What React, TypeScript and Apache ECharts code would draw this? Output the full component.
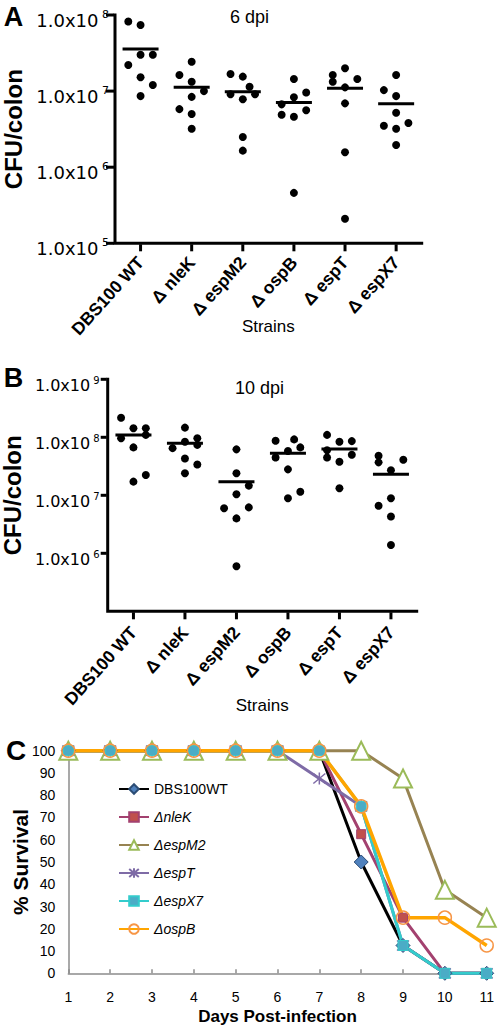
import React, { useEffect, useRef } from 'react';
import * as echarts from 'echarts';

// ---------- Data ----------
const strains = ['DBS100 WT', 'Δ nleK', 'Δ espM2', 'Δ ospB', 'Δ espT', 'Δ espX7'];

// Panel A (6 dpi) CFU/colon per mouse
const a_WT = [8.2e7, 7.4e7, 3.0e7, 3.0e7, 2.2e7, 1.52e7, 1.2e7, 8.6e6];
const a_nleK = [2.43e7, 1.63e7, 1.33e7, 1.0e7, 8.4e6, 5.8e6, 5.0e6, 3.2e6];
const a_espM2 = [1.68e7, 1.55e7, 1.14e7, 9.1e6, 7.8e6, 9.1e6, 2.5e6, 1.65e6];
const a_ospB = [1.44e7, 9.6e6, 8.3e6, 6.7e6, 5.6e6, 4.9e6, 4.6e6, 4.6e5];
const a_espT = [2.0e7, 1.63e7, 1.44e7, 1.33e7, 1.12e7, 6.9e6, 1.57e6, 2.1e5];
const a_espX7 = [1.63e7, 1.03e7, 8.6e6, 5.2e6, 3.8e6, 3.5e6, 3.2e6, 1.96e6];
// column (left -1 / centre 0 / right 1) of each dot in the scatter
const a_WT_col = [-1, 0, 0, 1, -1, 0, 1, 0];
const a_nleK_col = [0, -1, 0, 1, 0, -1, 0, 0];
const a_espM2_col = [-1, 0, 0.55, -1, 0, 1, 0, 0];
const a_ospB_col = [0, 1, 0, -1, 1, -1, 0, 0];
const a_espT_col = [0, -1, 1, -1, 0, 0, 0, 0];
const a_espX7_col = [0, -1, 0, 0, 1, -1, 0, 0];
const a_means = [3.57e7, 1.12e7, 9.8e6, 7.1e6, 1.09e7, 6.8e6];
const a_range = [1e5, 1e8];
const a_ticks = [1e5, 1e6, 1e7, 1e8];

// Panel B (10 dpi)
const b_WT = [2.18e8, 1.43e8, 1.43e8, 9.6e7, 1.1e8, 6.7e7, 2.24e7, 1.72e7];
const b_nleK = [1.47e8, 6.5e7, 8.4e7, 9.6e7, 7.4e7, 4.3e7, 3.4e7, 2.4e7];
const b_espM2 = [6.2e7, 2.4e7, 1.47e7, 1.04e7, 6.0e6, 6.2e6, 4.0e6, 6.0e5];
const b_ospB = [8.7e7, 9.2e7, 6.7e7, 5.8e7, 4.5e7, 2.8e7, 1.15e7, 8.9e6];
const b_espT = [1.1e8, 8.4e7, 8.6e7, 6.0e7, 4.5e7, 5.0e7, 3.8e7, 1.32e7];
const b_espX7 = [4.8e7, 3.7e7, 4.1e7, 2.7e7, 8.9e6, 6.6e6, 4.3e6, 1.39e6];
const b_WT_col = [-1, 0, 1, -1, 1, 0, 1, 0];
const b_nleK_col = [0, -1, 0, 1, 1, 0, 1, 0];
const b_espM2_col = [0, 0, 1, 0, -1, 1, 0, 0];
const b_ospB_col = [-1, 0.5, 1, 0, -1, 0, 1, 0];
const b_espT_col = [-1, 0, 1, -1, -1, 1, 0, 0];
const b_espX7_col = [-1, -1, 1, 0, 0, -1, 0, 0];
const b_means = [1.1e8, 7.9e7, 1.72e7, 5.3e7, 6.3e7, 2.3e7];
const b_range = [1e5, 1e9];
const b_ticks = [1e6, 1e7, 1e8, 1e9];

// Panel C survival
const days = ['1', '2', '3', '4', '5', '6', '7', '8', '9', '10', '11'];
const surv_WT = [100, 100, 100, 100, 100, 100, 100, 50, 12.5, 0, 0];
const surv_nleK = [100, 100, 100, 100, 100, 100, 100, 62.5, 25, 0, 0];
const surv_espM2 = [100, 100, 100, 100, 100, 100, 100, 100, 87.5, 37.5, 25];
const surv_espT = [100, 100, 100, 100, 100, 100, 87.5, 75, 12.5, 0, 0];
const surv_espX7 = [100, 100, 100, 100, 100, 100, 100, 75, 12.5, 0, 0];
const surv_ospB = [100, 100, 100, 100, 100, 100, 100, 75, 25, 25, 12.5];
const survNames = ['DBS100WT', 'ΔnleK', 'ΔespM2', 'ΔespT', 'ΔespX7', 'ΔospB'];

// ---------- Helpers ----------
const FONT = '"Liberation Sans", Arial, Helvetica, sans-serif';
const WIDE = '"DejaVu Sans", Verdana, sans-serif';
const COL_STEP = 0.24;
const X_LO = -0.5;
const X_HI = strains.length - 0.5;

function toPoints(groups: number[][], cols: number[][]) {
  const out: number[][] = [];
  groups.forEach((vals, i) => vals.forEach((v, j) => out.push([i + cols[i][j] * COL_STEP, v])));
  return out;
}

function logLabel(size: number, sup: number, shift: number, hideMin: boolean, margin: number) {
  return {
    margin,
    padding: [shift, 0, 0, 0],
    formatter: (v: number) => {
      const e = Math.round(Math.log10(v));
      if (hideMin && e === 5) return '';
      return `{b|1.0x10}{s| ${e}}`;
    },
    rich: {
      b: { fontFamily: WIDE, fontSize: size, color: '#000', verticalAlign: 'bottom', lineHeight: size + 2 },
      s: { fontFamily: WIDE, fontSize: sup, color: '#000', verticalAlign: 'top', lineHeight: sup },
    },
  };
}

function catAxis(grid: number, nameGap: number, margin: number) {
  return {
    type: 'category',
    gridIndex: grid,
    data: strains,
    boundaryGap: true,
    axisLine: { show: false, onZero: false },
    axisTick: { show: false },
    axisLabel: { rotate: 48, interval: 0, margin, fontFamily: FONT, fontWeight: 'bold', fontSize: 17.5, color: '#000' },
    name: 'Strains',
    nameLocation: 'middle',
    nameGap,
    nameMoveOverlap: false,
    nameTextStyle: { fontFamily: FONT, fontSize: 17, color: '#000' },
  };
}

function hiddenX(grid: number) {
  return {
    type: 'value', gridIndex: grid, min: X_LO, max: X_HI, show: false,
    axisLine: { show: false, onZero: false }, axisTick: { show: false }, axisLabel: { show: false }, splitLine: { show: false },
  };
}

function logAxis(grid: number, range: number[], nameGap: number, lab: any) {
  return {
    type: 'log',
    logBase: 10,
    gridIndex: grid,
    min: range[0],
    max: range[1],
    axisLine: { show: false, onZero: false },
    axisTick: { show: false },
    splitLine: { show: false },
    minorTick: { show: false },
    axisLabel: lab,
    name: 'CFU/colon',
    nameLocation: 'middle',
    nameRotate: 90,
    nameGap,
    nameMoveOverlap: false,
    nameTextStyle: { fontFamily: FONT, fontWeight: 'bold', fontSize: 24, color: '#000' },
  };
}

// Axis frame (L-shaped line + ticks) of a strain panel, drawn as series on the panel's own scales.
function frameSeries(xi: number, yi: number, range: number[], ticks: number[], xTick: number, yTick: number) {
  return [
    {
      type: 'line', xAxisIndex: xi, yAxisIndex: yi, silent: true, clip: false, z: 5,
      data: [[X_LO, range[1]], [X_LO, range[0]], [X_HI, range[0]]],
      symbol: 'none', lineStyle: { color: '#000', width: 3, join: 'miter', cap: 'square' },
    },
    {
      type: 'scatter', xAxisIndex: xi, yAxisIndex: yi, silent: true, clip: false, z: 5,
      data: strains.map((_, i) => [i, range[0]]),
      symbol: 'rect', symbolSize: [3, xTick], symbolOffset: [0, xTick / 2 + 1],
      itemStyle: { color: '#000', opacity: 1 },
    },
    {
      type: 'scatter', xAxisIndex: xi, yAxisIndex: yi, silent: true, clip: false, z: 5,
      data: ticks.map((v) => [X_LO, v]),
      symbol: 'rect', symbolSize: [yTick, 3], symbolOffset: [-yTick / 2 - 1, 0],
      itemStyle: { color: '#000', opacity: 1 },
    },
  ];
}

const asterisk = 'path://M0,0L10,10M10,0L0,10M5,-1L5,11';

export default function App() {
  const ref = useRef<HTMLDivElement>(null);
  useEffect(() => {
    if (!ref.current) return;
    const chart = echarts.init(ref.current, undefined, { renderer: 'svg' });

    const ptsA = toPoints(
      [a_WT, a_nleK, a_espM2, a_ospB, a_espT, a_espX7],
      [a_WT_col, a_nleK_col, a_espM2_col, a_ospB_col, a_espT_col, a_espX7_col]
    );
    const ptsB = toPoints(
      [b_WT, b_nleK, b_espM2, b_ospB, b_espT, b_espX7],
      [b_WT_col, b_nleK_col, b_espM2_col, b_ospB_col, b_espT_col, b_espX7_col]
    );

    const lineSeries = (name: string, data: number[], lineColor: string, symbol: string, size: number, item: any, lw = 3) => ({
      type: 'line',
      name,
      xAxisIndex: 4,
      yAxisIndex: 2,
      data,
      clip: false,
      symbol,
      symbolSize: size,
      lineStyle: { color: lineColor, width: lw },
      itemStyle: item,
      showAllSymbol: true,
    });

    const texts = [
      { type: 'text', style: { text: 'A', x: 13.5, y: 17, font: `bold 27px ${FONT}`, fill: '#000', textAlign: 'center', textVerticalAlign: 'middle' } },
      { type: 'text', style: { text: 'B', x: 13.5, y: 377.5, font: `bold 27px ${FONT}`, fill: '#000', textAlign: 'center', textVerticalAlign: 'middle' } },
      { type: 'text', style: { text: 'C', x: 16, y: 750.5, font: `bold 28px ${FONT}`, fill: '#000', textAlign: 'center', textVerticalAlign: 'middle' } },
      { type: 'text', style: { text: '6 dpi', x: 249.5, y: 17, font: `18px ${FONT}`, fill: '#000', textAlign: 'center', textVerticalAlign: 'middle' } },
      { type: 'text', style: { text: '10 dpi', x: 259.5, y: 388, font: `18px ${FONT}`, fill: '#000', textAlign: 'center', textVerticalAlign: 'middle' } },
    ];

    chart.setOption({
      animation: false,
      textStyle: { fontFamily: FONT },
      graphic: texts,
      grid: [
        { left: 115, top: 15, width: 306.7, height: 228.3, outerBoundsMode: 'none', containLabel: false },
        { left: 107.7, top: 379.3, width: 309, height: 232, outerBoundsMode: 'none', containLabel: false },
        { left: 68.3, top: 750.7, width: 418.4, height: 222.6, outerBoundsMode: 'none', containLabel: false },
      ],
      xAxis: [
        catAxis(0, 75, 16),
        hiddenX(0),
        catAxis(1, 86, 18),
        hiddenX(1),
        {
          type: 'category',
          gridIndex: 2,
          data: days,
          boundaryGap: false,
          axisLine: { show: true, onZero: false, lineStyle: { color: '#8C8C8C', width: 1.5 } },
          axisTick: { show: true, inside: true, length: 4, lineStyle: { color: '#8C8C8C', width: 1.5 } },
          axisLabel: { fontFamily: FONT, fontSize: 14, color: '#000', margin: 17, interval: 0 },
          name: 'Days Post-infection',
          nameLocation: 'middle',
          nameGap: 35,
          nameMoveOverlap: false,
          nameTextStyle: { fontFamily: FONT, fontWeight: 'bold', fontSize: 17, color: '#000' },
        },
      ],
      yAxis: [
        logAxis(0, a_range, 90, logLabel(18, 11, 8, false, 6)),
        logAxis(1, b_range, 83, logLabel(16, 10, 10, true, 8)),
        {
          type: 'value',
          gridIndex: 2,
          min: 0,
          max: 100,
          interval: 10,
          axisLine: { show: true, onZero: false, lineStyle: { color: '#8C8C8C', width: 1.5 } },
          axisTick: { show: false },
          splitLine: { show: false },
          axisLabel: { fontFamily: FONT, fontSize: 14, color: '#000', margin: 13 },
          name: '% Survival',
          nameLocation: 'middle',
          nameRotate: 90,
          nameGap: 37,
          nameMoveOverlap: false,
          nameTextStyle: { fontFamily: FONT, fontWeight: 'bold', fontSize: 21, color: '#000' },
        },
      ],
      legend: {
        orient: 'vertical',
        left: 118,
        top: 781,
        padding: 0,
        itemWidth: 30,
        itemHeight: 12,
        itemGap: 12,
        selectedMode: false,
        data: survNames,
        formatter: (n: string) => (n.startsWith('Δ') ? `{it|${n}}` : n),
        textStyle: {
          fontFamily: FONT,
          fontSize: 14,
          color: '#000',
          lineHeight: 16,
          rich: { it: { fontFamily: FONT, fontSize: 14, fontStyle: 'italic', color: '#000' } },
        },
      },
      series: [
        ...frameSeries(1, 0, a_range, a_ticks, 7, 8),
        ...frameSeries(3, 1, b_range, b_ticks, 7, 6),
        {
          type: 'scatter', xAxisIndex: 1, yAxisIndex: 0, data: ptsA,
          symbol: 'circle', symbolSize: 8, itemStyle: { color: '#000', opacity: 1 },
        },
        {
          type: 'scatter', xAxisIndex: 0, yAxisIndex: 0, data: a_means,
          symbol: 'rect', symbolSize: [36, 3], itemStyle: { color: '#000', opacity: 1 },
        },
        {
          type: 'scatter', xAxisIndex: 3, yAxisIndex: 1, data: ptsB,
          symbol: 'circle', symbolSize: 8, itemStyle: { color: '#000', opacity: 1 },
        },
        {
          type: 'scatter', xAxisIndex: 2, yAxisIndex: 1, data: b_means,
          symbol: 'rect', symbolSize: [36, 3], itemStyle: { color: '#000', opacity: 1 },
        },
        lineSeries(survNames[0], surv_WT, '#000000', 'diamond', 14, { color: '#4F81BD', borderColor: '#2C4D75', borderWidth: 1 }),
        lineSeries(survNames[1], surv_nleK, '#A3416F', 'rect', 9, { color: '#C0504D', borderColor: '#A3416F', borderWidth: 1 }),
        lineSeries(survNames[2], surv_espM2, '#978352', 'emptyTriangle', 18, { color: '#9BBB59', borderColor: '#9BBB59', borderWidth: 1.5 }),
        lineSeries(survNames[3], surv_espT, '#7E6BA6', asterisk, 12, { color: '#7E6BA6', borderColor: '#7E6BA6', borderWidth: 1.5 }),
        lineSeries(survNames[4], surv_espX7, '#33CCCC', 'rect', 10, { color: '#4BACC6', borderColor: '#33CCCC', borderWidth: 1 }),
        lineSeries(survNames[5], surv_ospB, '#FFA500', 'circle', 13, { color: 'rgba(255,255,255,0)', borderColor: '#F79646', borderWidth: 1.5 }, 3.5),
      ],
    });

    return () => chart.dispose();
  }, []);
  return <div ref={ref} style={{ position: 'absolute', left: 0, top: 0, width: 498, height: 1028, background: '#fff' }} />;
}
